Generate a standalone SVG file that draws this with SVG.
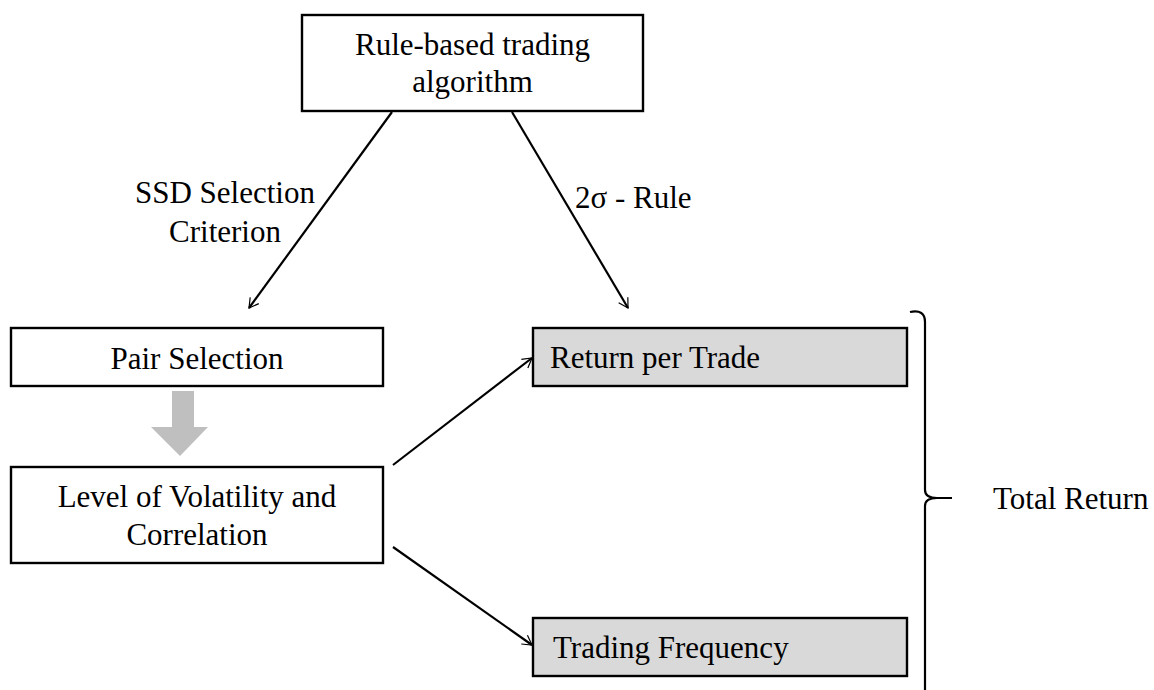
<svg xmlns="http://www.w3.org/2000/svg" width="1154" height="690" viewBox="0 0 1154 690">
<style>
text{font-family:"Liberation Serif",Tinos,"Times New Roman",Times,"DejaVu Serif",serif;font-size:31px;fill:#000}
.box{fill:#fff;stroke:#000;stroke-width:2.4}
.gbox{fill:#d9d9d9;stroke:#000;stroke-width:2.4}
.c{text-anchor:middle}
.ln{stroke:#000;stroke-width:2.2;fill:none;marker-end:url(#ah)}
</style>
<defs>
<marker id="ah" viewBox="0 0 12 12" refX="11" refY="6" markerWidth="8" markerHeight="8" markerUnits="userSpaceOnUse" orient="auto" overflow="visible">
<path d="M-3,-2 L11,6 L-3,14" fill="none" stroke="#000" stroke-width="1.8"/>
</marker>
</defs>
<g id="top">
<rect class="box" x="302" y="15" width="341" height="96"/>
<text class="c" x="472.5" y="55">Rule-based trading</text>
<text class="c" x="472.5" y="92">algorithm</text>
</g>
<g id="pair">
<rect class="box" x="11" y="328" width="372" height="58"/>
<text class="c" x="197" y="369">Pair Selection</text>
</g>
<g id="level">
<rect class="box" x="11" y="467" width="372" height="96"/>
<text class="c" x="197" y="507">Level of Volatility and</text>
<text class="c" x="197" y="545">Correlation</text>
</g>
<g id="rpt">
<rect class="gbox" x="533" y="328" width="374" height="58"/>
<text x="550" y="368">Return per Trade</text>
</g>
<g id="tf">
<rect class="gbox" x="533" y="618" width="374" height="58"/>
<text x="553" y="658">Trading Frequency</text>
</g>
<g id="total">
<path d="M910,312 Q925,309 925,322 L925,490 Q925,498 937,498 L952,498 M937,498 Q925,498 925,506 L925,692" fill="none" stroke="#000" stroke-width="2.2"/>
<text x="993" y="509">Total Return</text>
</g>
<g id="connectors">
<line class="ln" x1="392" y1="112" x2="249" y2="308"/>
<line class="ln" x1="512" y1="112" x2="628" y2="308"/>
<line class="ln" x1="393" y1="465" x2="532" y2="358"/>
<line class="ln" x1="393" y1="547" x2="532" y2="645"/>
<polygon points="172,391 194,391 194,427 208,427 180,456 151,427 172,427" fill="#bfbfbf"/>
<text class="c" x="225" y="203">SSD Selection</text>
<text class="c" x="225" y="242">Criterion</text>
<text x="575" y="208">2σ - Rule</text>
</g>
</svg>
